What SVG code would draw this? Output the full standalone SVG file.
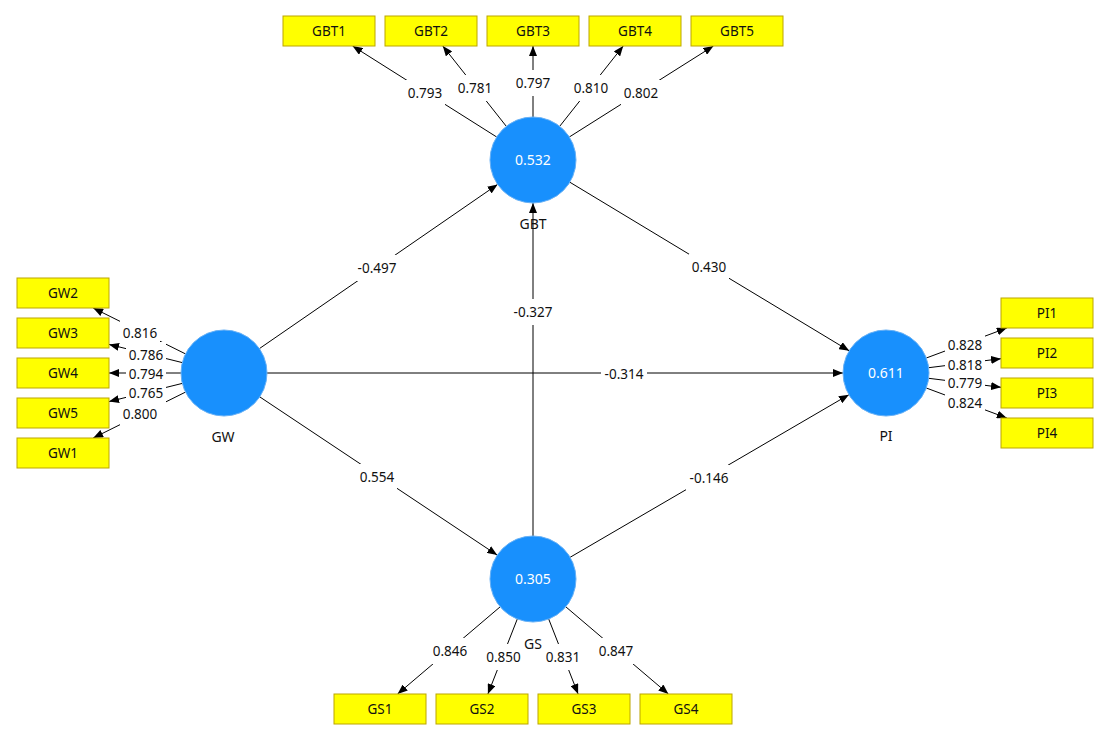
<svg xmlns="http://www.w3.org/2000/svg" width="1108" height="743" viewBox="0 0 1108 743">
<style>
text{font-family:"Segoe UI","Noto Sans","Open Sans",sans-serif;font-size:13.5px;text-anchor:middle;fill:#111}
.box{fill:#ffff00;stroke:#bca600;stroke-width:1}
.lv{fill:#1890fd;stroke:#66b0f6;stroke-width:1}
.lvt{fill:#ffffff;font-size:14px}
.nm{font-size:14px}
.ln{stroke:#000;stroke-width:1;fill:none;marker-end:url(#ah)}
.bg{fill:#ffffff}
</style>
<defs>
<marker id="ah" markerUnits="userSpaceOnUse" markerWidth="10" markerHeight="8" refX="10" refY="4" orient="auto">
<path d="M0,0 L10,4 L0,8 z" fill="#000"/>
</marker>
</defs>
<rect width="1108" height="743" fill="#ffffff"/>
<g id="connectors">
<line class="ln" x1="496.7" y1="137" x2="352.6" y2="46"/>
<line class="ln" x1="506.3" y1="126.3" x2="442.8" y2="46"/>
<line class="ln" x1="533" y1="117" x2="533" y2="46"/>
<line class="ln" x1="559.7" y1="126.3" x2="623.2" y2="46"/>
<line class="ln" x1="569.3" y1="137" x2="713.4" y2="46"/>
<line class="ln" x1="500.2" y1="606.8" x2="397.6" y2="694"/>
<line class="ln" x1="517.3" y1="619" x2="487.9" y2="694"/>
<line class="ln" x1="548.7" y1="619" x2="578.1" y2="694"/>
<line class="ln" x1="565.8" y1="606.8" x2="668.4" y2="694"/>
<line class="ln" x1="185.5" y1="353.9" x2="93.2" y2="308"/>
<line class="ln" x1="182.3" y1="362.6" x2="109" y2="344.4"/>
<line class="ln" x1="181" y1="373" x2="109" y2="373"/>
<line class="ln" x1="182.3" y1="383.4" x2="109" y2="401.6"/>
<line class="ln" x1="185.5" y1="392.1" x2="93.2" y2="438"/>
<line class="ln" x1="926.3" y1="358" x2="1006.8" y2="328"/>
<line class="ln" x1="928.7" y1="367.7" x2="1001" y2="358.7"/>
<line class="ln" x1="928.7" y1="378.3" x2="1001" y2="387.3"/>
<line class="ln" x1="926.3" y1="388" x2="1006.8" y2="418"/>
<line class="ln" x1="259.4" y1="348.6" x2="497.6" y2="184.4"/>
<line class="ln" x1="569.8" y1="182.2" x2="849.2" y2="350.8"/>
<line class="ln" x1="267" y1="373" x2="843" y2="373"/>
<line class="ln" x1="259.8" y1="396.9" x2="497.2" y2="555.1"/>
<line class="ln" x1="570.1" y1="557.3" x2="848.9" y2="394.7"/>
<line class="ln" x1="533" y1="536" x2="533" y2="203"/>
</g>
<g id="label-bgs">
<rect class="bg" x="405" y="80" width="40" height="26"/>
<rect class="bg" x="455" y="75" width="40" height="26"/>
<rect class="bg" x="513" y="70" width="40" height="26"/>
<rect class="bg" x="571" y="75" width="40" height="26"/>
<rect class="bg" x="621" y="80" width="40" height="26"/>
<rect class="bg" x="430" y="638" width="40" height="26"/>
<rect class="bg" x="483.5" y="644" width="40" height="26"/>
<rect class="bg" x="543" y="644" width="40" height="26"/>
<rect class="bg" x="596" y="638" width="40" height="26"/>
<rect class="bg" x="120" y="320" width="40" height="26"/>
<rect class="bg" x="126" y="342" width="40" height="26"/>
<rect class="bg" x="126" y="361" width="40" height="26"/>
<rect class="bg" x="126" y="380" width="40" height="26"/>
<rect class="bg" x="120" y="401" width="40" height="26"/>
<rect class="bg" x="945" y="332" width="40" height="26"/>
<rect class="bg" x="945" y="352" width="40" height="26"/>
<rect class="bg" x="945" y="370" width="40" height="26"/>
<rect class="bg" x="945" y="390" width="40" height="26"/>
<rect class="bg" x="354" y="255" width="46" height="26"/>
<rect class="bg" x="689" y="254" width="40" height="26"/>
<rect class="bg" x="510" y="299" width="46" height="26"/>
<rect class="bg" x="601" y="361" width="46" height="26"/>
<rect class="bg" x="357" y="464" width="40" height="26"/>
<rect class="bg" x="686" y="465" width="46" height="26"/>
</g>
<g id="labels">
<text x="425" y="98">0.793</text>
<text x="475" y="93">0.781</text>
<text x="533" y="88">0.797</text>
<text x="591" y="93">0.810</text>
<text x="641" y="98">0.802</text>
<text x="450" y="656">0.846</text>
<text x="503.5" y="662">0.850</text>
<text x="563" y="662">0.831</text>
<text x="616" y="656">0.847</text>
<text x="140" y="338">0.816</text>
<text x="146" y="360">0.786</text>
<text x="146" y="379">0.794</text>
<text x="146" y="398">0.765</text>
<text x="140" y="419">0.800</text>
<text x="965" y="350">0.828</text>
<text x="965" y="370">0.818</text>
<text x="965" y="388">0.779</text>
<text x="965" y="408">0.824</text>
<text x="377" y="273">-0.497</text>
<text x="709" y="272">0.430</text>
<text x="533" y="317">-0.327</text>
<text x="624" y="379">-0.314</text>
<text x="377" y="482">0.554</text>
<text x="709" y="483">-0.146</text>
</g>
<g id="GBT">
<circle class="lv" cx="533" cy="160" r="43"/>
<text class="lvt" x="533" y="165">0.532</text>
<text class="nm" x="533" y="229">GBT</text>
</g>
<g id="GW">
<circle class="lv" cx="224" cy="373" r="43"/>
<text class="nm" x="223" y="442">GW</text>
</g>
<g id="PI">
<circle class="lv" cx="886" cy="373" r="43"/>
<text class="lvt" x="886" y="378">0.611</text>
<text class="nm" x="886" y="441">PI</text>
</g>
<g id="GS">
<circle class="lv" cx="533" cy="579" r="43"/>
<text class="lvt" x="533" y="584">0.305</text>
<text class="nm" x="533" y="649">GS</text>
</g>
<g id="GBT1"><rect class="box" x="283" y="16" width="92" height="30"/><text x="329" y="36">GBT1</text></g>
<g id="GBT2"><rect class="box" x="385" y="16" width="92" height="30"/><text x="431" y="36">GBT2</text></g>
<g id="GBT3"><rect class="box" x="487" y="16" width="92" height="30"/><text x="533" y="36">GBT3</text></g>
<g id="GBT4"><rect class="box" x="589" y="16" width="92" height="30"/><text x="635" y="36">GBT4</text></g>
<g id="GBT5"><rect class="box" x="691" y="16" width="92" height="30"/><text x="737" y="36">GBT5</text></g>
<g id="GW2"><rect class="box" x="17" y="278" width="92" height="30"/><text x="63" y="298">GW2</text></g>
<g id="GW3"><rect class="box" x="17" y="318" width="92" height="30"/><text x="63" y="338">GW3</text></g>
<g id="GW4"><rect class="box" x="17" y="358" width="92" height="30"/><text x="63" y="378">GW4</text></g>
<g id="GW5"><rect class="box" x="17" y="398" width="92" height="30"/><text x="63" y="418">GW5</text></g>
<g id="GW1"><rect class="box" x="17" y="438" width="92" height="30"/><text x="63" y="458">GW1</text></g>
<g id="PI1"><rect class="box" x="1001" y="298" width="92" height="30"/><text x="1047" y="318">PI1</text></g>
<g id="PI2"><rect class="box" x="1001" y="338" width="92" height="30"/><text x="1047" y="358">PI2</text></g>
<g id="PI3"><rect class="box" x="1001" y="378" width="92" height="30"/><text x="1047" y="398">PI3</text></g>
<g id="PI4"><rect class="box" x="1001" y="418" width="92" height="30"/><text x="1047" y="438">PI4</text></g>
<g id="GS1"><rect class="box" x="334" y="694" width="92" height="30"/><text x="380" y="714">GS1</text></g>
<g id="GS2"><rect class="box" x="436" y="694" width="92" height="30"/><text x="482" y="714">GS2</text></g>
<g id="GS3"><rect class="box" x="538" y="694" width="92" height="30"/><text x="584" y="714">GS3</text></g>
<g id="GS4"><rect class="box" x="640" y="694" width="92" height="30"/><text x="686" y="714">GS4</text></g>
</svg>
